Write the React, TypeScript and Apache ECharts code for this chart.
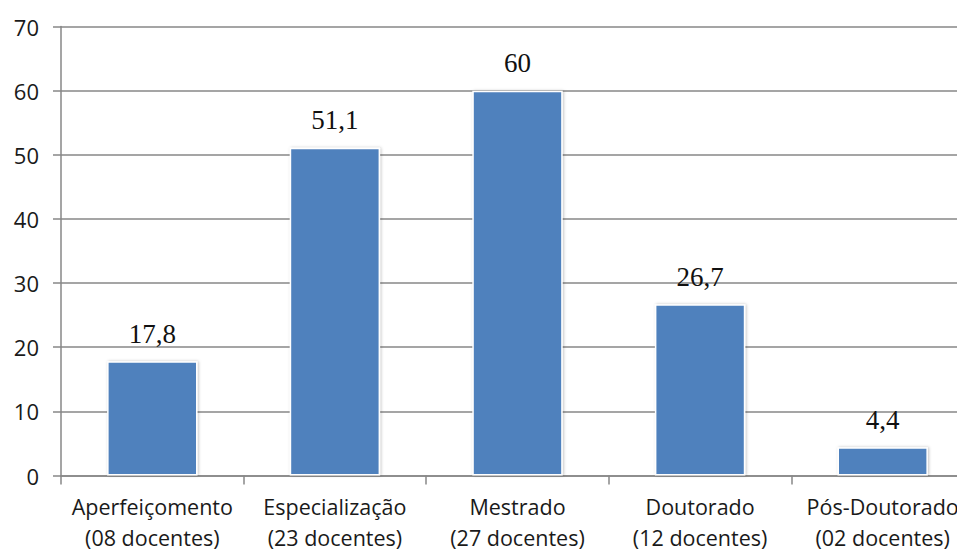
import React, { useEffect, useRef } from "react";
import * as echarts from "echarts";

// Titulação dos docentes (%)
const categories = [
  "Aperfeiçomento\n(08 docentes)",
  "Especialização\n(23 docentes)",
  "Mestrado\n(27 docentes)",
  "Doutorado\n(12 docentes)",
  "Pós-Doutorado\n(02 docentes)",
];
const values = [17.8, 51.1, 60, 26.7, 4.4];
const valueLabels = ["17,8", "51,1", "60", "26,7", "4,4"];

const axisFont = "'Open Sans', Lato, sans-serif";
const labelFont = "'Liberation Serif', 'DejaVu Serif', serif";

export default function App() {
  const ref = useRef<HTMLDivElement>(null);

  useEffect(() => {
    if (!ref.current) return;
    const chart = echarts.init(ref.current, undefined, { renderer: "svg" });
    chart.setOption({
      animation: false,
      backgroundColor: "#ffffff",
      grid: {
        left: 61,
        top: 26.5,
        width: 913,
        height: 449,
        containLabel: false,
        outerBoundsMode: "none",
      },
      xAxis: {
        type: "category",
        data: categories,
        axisLine: { lineStyle: { color: "#878787", width: 1.5 } },
        axisTick: { show: true, length: 9, lineStyle: { color: "#878787", width: 1.5 } },
        axisLabel: {
          color: "#1a1a1a",
          fontFamily: axisFont,
          fontSize: 21.5,
          lineHeight: 31,
          margin: 15,
          interval: 0,
        },
      },
      yAxis: {
        type: "value",
        min: 0,
        max: 70,
        interval: 10,
        axisLine: { show: true, lineStyle: { color: "#878787", width: 1.5 } },
        axisTick: { show: true, length: 8, lineStyle: { color: "#878787", width: 1.5 } },
        splitLine: { show: true, lineStyle: { color: "#878787", width: 1.5 } },
        axisLabel: {
          color: "#1a1a1a",
          fontFamily: axisFont,
          fontSize: 22,
          margin: 22,
        },
      },
      series: [
        {
          type: "bar",
          data: values,
          barWidth: "49.5%",
          itemStyle: {
            color: "#4F81BD",
            borderColor: "#ffffff",
            borderWidth: 1.5,
            shadowColor: "rgba(0,0,0,0.25)",
            shadowBlur: 3,
            shadowOffsetX: 1,
            shadowOffsetY: 0,
          },
          label: {
            show: true,
            position: "top",
            distance: 14,
            color: "#111111",
            fontFamily: labelFont,
            fontSize: 27,
            formatter: (p: any) => valueLabels[p.dataIndex],
          },
        },
      ],
    });
    return () => chart.dispose();
  }, []);

  return <div ref={ref} style={{ width: 965, height: 555, marginLeft: -8, marginTop: -8 }} />;
}
